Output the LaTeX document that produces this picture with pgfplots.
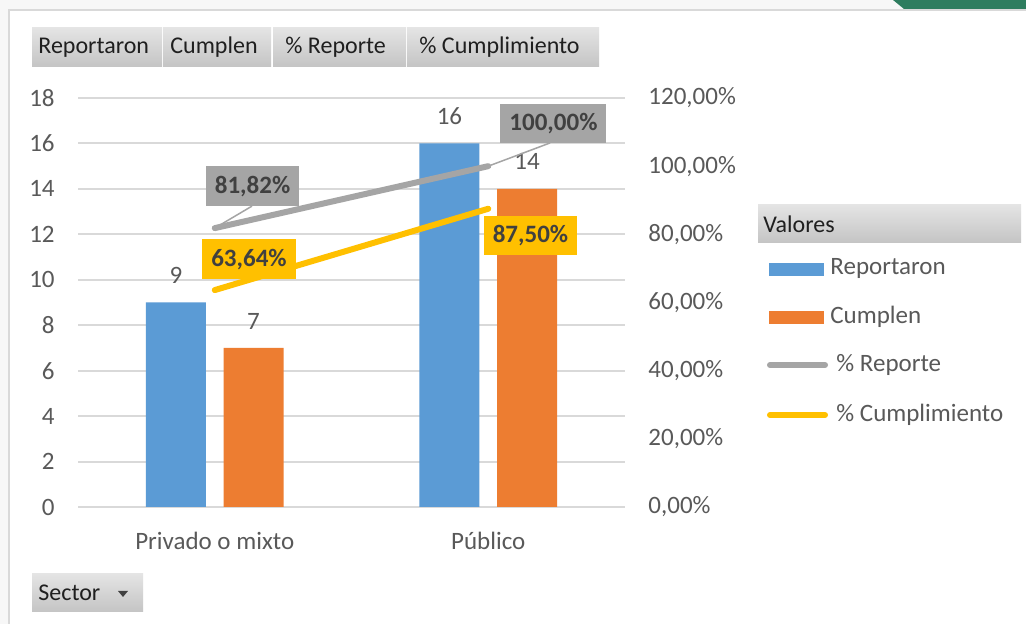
\documentclass[border=0pt]{standalone}
\usepackage{fontspec}
\setmainfont{Carlito}
\usepackage{pgfplots}
\pgfplotsset{compat=1.18}

\definecolor{cBlue}{HTML}{5B9BD5}
\definecolor{cOrange}{HTML}{ED7D31}
\definecolor{cGray}{HTML}{A5A5A5}
\definecolor{cYellow}{HTML}{FFC000}
\definecolor{cText}{HTML}{595959}
\definecolor{cGrid}{HTML}{D9D9D9}
\definecolor{cLbl}{HTML}{404040}
\definecolor{cGreen}{HTML}{2E7D5F}
\definecolor{cOuter}{HTML}{F7F7F7}
\definecolor{btnTop}{HTML}{E4E4E4}
\definecolor{btnBot}{HTML}{C4C4C4}

\begin{document}
\begin{tikzpicture}[font=\fontsize{12}{14}\selectfont,
  btn/.style={top color=btnTop, bottom color=btnBot, draw=none},
  btxt/.style={anchor=west, inner sep=0pt, text=black!88, font=\fontsize{12}{14}\selectfont},
  dl/.style={font=\bfseries\fontsize{12.5}{14}\selectfont, text=cLbl, inner xsep=4.5pt, inner ysep=0pt, minimum height=19.75pt},
  leg/.style={anchor=west, inner sep=0pt, text=cText, font=\fontsize{12.5}{14}\selectfont}]
\useasboundingbox (0,0) rectangle (513pt,312pt);
% frame of the sheet
\fill[cOuter] (0,0) rectangle (513pt,312pt);
\fill[white] (4.5pt,0) rectangle (513pt,307pt);
\draw[cGrid, line width=1pt] (4.5pt,0) -- (4.5pt,307pt) -- (513pt,307pt);
\fill[cGreen] (446.5pt,312pt) -- (513pt,312pt) -- (513pt,307.5pt) -- (452pt,307.5pt) -- cycle;

% field buttons
\fill[btn] (16pt,278.5pt) rectangle (81pt,298pt);
\fill[btn] (81.5pt,278.5pt) rectangle (135.5pt,298pt);
\fill[btn] (136.5pt,278.5pt) rectangle (203pt,298pt);
\fill[btn] (203.5pt,278.5pt) rectangle (299.5pt,298pt);
\node[btxt] at (19pt,288.25pt) {Reportaron};
\node[btxt] at (85pt,288.25pt) {Cumplen};
\node[btxt] at (142.5pt,288.25pt) {\% Reporte};
\node[btxt] at (209.5pt,288.25pt) {\% Cumplimiento};

\fill[btn] (16pt,6pt) rectangle (71.5pt,25pt);
\node[btxt] at (19pt,15.5pt) {Sector};
\fill[black!75] (59pt,16.5pt) -- (64pt,16.5pt) -- (61.5pt,13.5pt) -- cycle;

% bars
\begin{axis}[
  at={(39pt,58.5pt)}, anchor=south west,
  scale only axis, width=273.5pt, height=204.5pt,
  xmin=-0.5, xmax=1.5, ymin=0, ymax=18,
  xtick={0,1}, xticklabels={Privado o mixto,Público},
  ytick={0,2,...,18},
  ymajorgrids, grid style={cGrid, line width=1pt},
  axis line style={draw=none},
  tick style={draw=none}, major tick length=0pt,
  ticklabel style={text=cText, font=\fontsize{12.5}{14}\selectfont},
  yticklabel style={anchor=east, inner sep=0pt, xshift=-11.5pt},
  xticklabel style={anchor=base, inner sep=0pt, yshift=-21.5pt},
  /pgf/number format/assume math mode=true,
  nodes near coords style={text=cText, inner sep=0pt, yshift=9.25pt, font=\fontsize{12.5}{14}\selectfont},
  clip=false,
]
\addplot[ybar, bar width=30pt, bar shift=-19.4pt, fill=cBlue, draw=none, nodes near coords,
  every node near coord/.append style={xshift=-19.4pt}]
  coordinates {(0,9) (1,16)};
\addplot[ybar, bar width=30pt, bar shift=19.4pt, fill=cOrange, draw=none, nodes near coords,
  every node near coord/.append style={xshift=19.4pt}]
  coordinates {(0,7) (1,14)};
\end{axis}

% percentage lines
\begin{axis}[
  at={(39pt,58.5pt)}, anchor=south west,
  scale only axis, width=273.5pt, height=204.5pt,
  xmin=-0.5, xmax=1.5, ymin=0, ymax=120,
  axis y line*=right, hide x axis,
  ytick={0,20,...,120},
  yticklabel={\pgfmathprintnumber[fixed,fixed zerofill,precision=2,use comma]{\tick}\%},
  axis line style={draw=none},
  tick style={draw=none}, major tick length=0pt,
  yticklabel style={anchor=west, inner sep=0pt, xshift=11.5pt, text=cText, font=\fontsize{12.5}{14}\selectfont},
  /pgf/number format/assume math mode=true,
  clip=false,
]
\addplot[cGray, line width=3pt, line cap=round] coordinates {(0,81.82) (1,100)};
\addplot[cYellow, line width=3pt, line cap=round] coordinates {(0,63.64) (1,87.5)};
\draw[cGray, line width=0.75pt] (axis cs:0,81.82) -- ++(18.6pt,11pt);
\draw[cGray, line width=0.75pt] (axis cs:1,100) -- ++(30.9pt,11.6pt);
\node[dl, fill=cGray, xshift=18.9pt, yshift=21pt] at (axis cs:0,81.82) {81,82\%};
\node[dl, fill=cGray, xshift=32.6pt, yshift=21.35pt] at (axis cs:1,100) {100,00\%};
\node[dl, fill=cYellow, xshift=17.1pt, yshift=15.5pt] at (axis cs:0,63.64) {63,64\%};
\node[dl, fill=cYellow, xshift=21.1pt, yshift=-13.35pt] at (axis cs:1,87.5) {87,50\%};
\end{axis}

% legend
\fill[btn] (379pt,190.5pt) rectangle (510.5pt,209.5pt);
\node[btxt] at (381.5pt,200pt) {Valores};
\fill[cBlue] (384.5pt,174pt) rectangle (412pt,180.5pt);
\node[leg] at (415pt,177.5pt) {Reportaron};
\fill[cOrange] (384.5pt,150pt) rectangle (412pt,156.5pt);
\node[leg] at (415pt,153.5pt) {Cumplen};
\draw[cGray, line width=3pt, line cap=round] (385pt,129.5pt) -- (412.5pt,129.5pt);
\node[leg] at (418pt,129.5pt) {\% Reporte};
\draw[cYellow, line width=3pt, line cap=round] (385pt,104.5pt) -- (412.5pt,104.5pt);
\node[leg] at (418pt,104.5pt) {\% Cumplimiento};
\end{tikzpicture}
\end{document}
